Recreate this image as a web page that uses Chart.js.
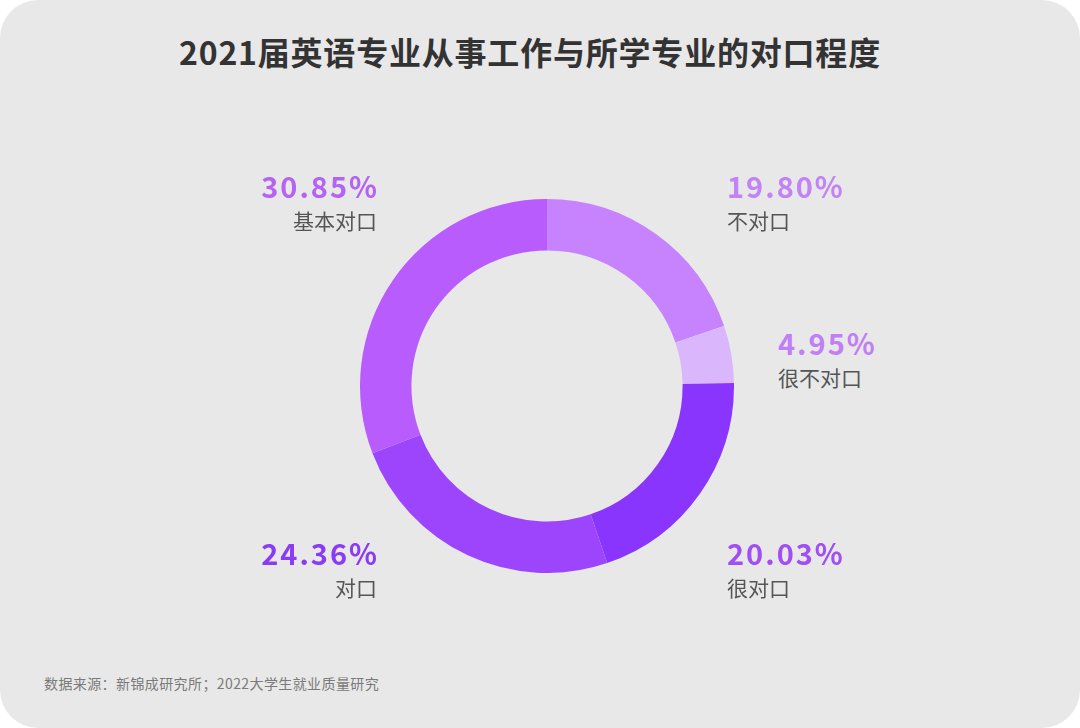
<!DOCTYPE html>
<html>
<head>
<meta charset="utf-8">
<script src="https://cdn.jsdelivr.net/npm/chart.js@4"></script>
<style>
    html, body {
        margin: 0;
        padding: 0;
        background: #ffffff;
        width: 1080px;
        height: 728px;
        overflow: hidden;
        font-family: "Noto Sans CJK SC", "Noto Sans", sans-serif;
    }
    .card {
        position: absolute;
        left: 0;
        top: 0;
        width: 1080px;
        height: 728px;
        background: #e8e8e8;
        border-radius: 38px;
    }
    .title {
        position: absolute;
        left: 0;
        width: 1060px;
        top: 28px;
        text-align: center;
        font-size: 32px;
        font-weight: 700;
        color: #333333;
        letter-spacing: 0.8px;
    }
    .chart-box {
        position: absolute;
        left: 360px;
        top: 199px;
        width: 374px;
        height: 374px;
    }
    .lbl {
        position: absolute;
        width: 200px;
    }
    .lbl.right { text-align: right; }
    .lbl.left { text-align: left; }
    .pct {
        font-size: 29px;
        font-weight: 700;
        line-height: 34px;
        letter-spacing: 2px;
    }
    .lbl.right .pct { margin-right: -2px; }
    .name {
        font-size: 21px;
        line-height: 30px;
        color: #555555;
        margin-top: 3px;
    }
    .source {
        position: absolute;
        left: 44px;
        top: 673px;
        font-size: 14px;
        letter-spacing: 0.4px;
        color: #7a7a7a;
    }
</style>
</head>
<body>
<div class="card"></div>
<div class="title">2021届英语专业从事工作与所学专业的对口程度</div>
<div class="chart-box"><canvas id="matchRateChart"></canvas></div>
<div id="labels"></div>
<div class="source">数据来源：新锦成研究所；2022大学生就业质量研究</div>
<script>
const categories = ['不对口', '很不对口', '很对口', '对口', '基本对口'];
const shares = [19.80, 4.95, 20.03, 24.36, 30.85];

const sliceColors = ['#c683fd', '#dab7fc', '#8935fe', '#9c45fd', '#b95cfd'];
const textColors = ['#c283f7', '#c07ff5', '#a14ef5', '#8a3cf5', '#b463f5'];
// label anchor: [x, top, side]
const labelSpots = [
    [727, 168, 'left'],
    [778, 325, 'left'],
    [727, 535, 'left'],
    [377, 535, 'right'],
    [377, 168, 'right']
];

function drawLabels() {
    const holder = document.getElementById('labels');
    categories.forEach((name, i) => {
        const spot = labelSpots[i];
        const el = document.createElement('div');
        el.className = 'lbl ' + spot[2];
        el.style.top = spot[1] + 'px';
        el.style.left = (spot[2] === 'right' ? spot[0] - 200 : spot[0]) + 'px';
        el.innerHTML = `<div class="pct" style="color:${textColors[i]}">${shares[i].toFixed(2)}%</div>` +
                       `<div class="name">${name}</div>`;
        holder.appendChild(el);
    });
}

function drawDoughnut() {
    const ctx = document.getElementById('matchRateChart').getContext('2d');
    new Chart(ctx, {
        type: 'doughnut',
        data: {
            labels: categories,
            datasets: [{
                data: shares,
                backgroundColor: sliceColors,
                borderWidth: 0,
                hoverOffset: 0
            }]
        },
        options: {
            responsive: true,
            maintainAspectRatio: false,
            animation: false,
            cutout: '72.5%',
            layout: { padding: 0 },
            plugins: {
                legend: { display: false },
                tooltip: { enabled: false },
                title: { display: false }
            }
        }
    });
}

drawLabels();
drawDoughnut();
</script>
</body>
</html>
